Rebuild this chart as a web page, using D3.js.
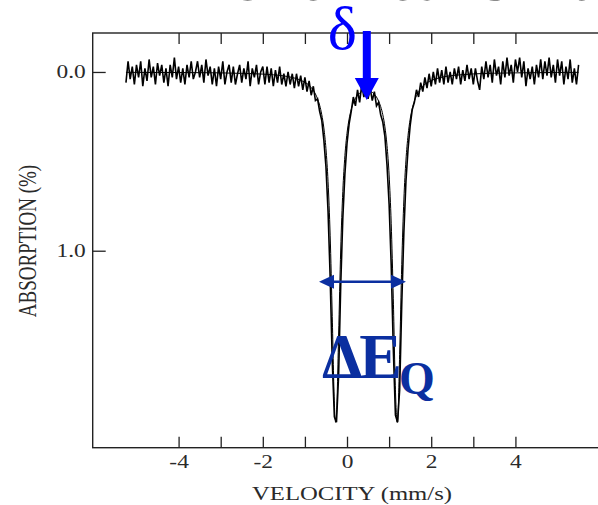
<!DOCTYPE html>
<html>
<head>
<meta charset="utf-8">
<script src="https://cdn.jsdelivr.net/npm/d3@7"></script>
<style>
  body { margin: 0; background: #fff; }
  svg { display: block; }
</style>
</head>
<body>
<svg id="drawing_region"></svg>
<script>
// velocity (mm/s), absorption (%)
const spectrum = [
  [-5.25,0.06],[-5.20,-0.06],[-5.15,0.04],[-5.10,-0.03],[-5.05,0.07],[-5.00,-0.04],[-4.95,0.03],[-4.90,-0.06],
  [-4.85,0.08],[-4.80,-0.02],[-4.75,0.05],[-4.70,-0.07],[-4.65,0.03],[-4.60,-0.03],[-4.55,0.07],[-4.50,-0.05],
  [-4.45,0.02],[-4.40,-0.04],[-4.35,0.06],[-4.30,-0.02],[-4.25,0.08],[-4.20,-0.04],[-4.15,0.03],[-4.10,-0.08],
  [-4.05,0.04],[-4.00,-0.03],[-3.95,0.06],[-3.90,-0.02],[-3.85,0.07],[-3.80,-0.04],[-3.75,0.03],[-3.70,-0.06],
  [-3.65,0.04],[-3.60,0.00],[-3.55,-0.06],[-3.50,0.03],[-3.45,-0.04],[-3.40,0.06],[-3.35,-0.07],[-3.30,0.02],
  [-3.25,-0.03],[-3.20,0.07],[-3.15,-0.02],[-3.10,0.08],[-3.05,-0.03],[-3.00,0.04],[-2.95,-0.06],[-2.90,0.07],
  [-2.85,0.00],[-2.80,-0.04],[-2.75,0.06],[-2.70,-0.03],[-2.65,0.07],[-2.60,0.01],[-2.55,-0.04],[-2.50,0.06],
  [-2.45,-0.02],[-2.40,0.04],[-2.35,-0.06],[-2.30,0.08],[-2.25,-0.02],[-2.20,0.03],[-2.15,-0.04],[-2.10,0.07],
  [-2.05,0.00],[-2.00,-0.03],[-1.95,0.07],[-1.90,-0.03],[-1.85,0.06],[-1.80,-0.02],[-1.75,0.08],[-1.70,-0.01],
  [-1.65,0.06],[-1.60,-0.03],[-1.55,0.07],[-1.50,0.01],[-1.45,0.08],[-1.40,0.00],[-1.35,0.07],[-1.30,0.01],
  [-1.25,0.09],[-1.20,0.01],[-1.15,0.08],[-1.10,0.02],[-1.05,0.10],[-1.00,0.03],[-0.95,0.11],[-0.90,0.05],
  [-0.85,0.13],[-0.80,0.08],[-0.75,0.16],[-0.70,0.15],[-0.65,0.22],[-0.60,0.27],[-0.55,0.38],[-0.50,0.53],
  [-0.45,0.78],[-0.40,1.15],[-0.35,1.62],[-0.30,1.93],[-0.25,1.96],[-0.20,1.70],[-0.15,1.20],[-0.10,0.82],
  [-0.05,0.57],[0.00,0.40],[0.05,0.29],[0.10,0.22],[0.15,0.14],[0.20,0.19],[0.25,0.10],[0.30,0.17],
  [0.35,0.07],[0.40,0.14],[0.45,0.08],[0.50,0.15],[0.55,0.09],[0.60,0.16],[0.65,0.11],[0.70,0.19],
  [0.75,0.17],[0.80,0.24],[0.85,0.28],[0.90,0.36],[0.95,0.52],[1.00,0.74],[1.05,1.08],[1.10,1.55],
  [1.15,1.92],[1.20,1.96],[1.25,1.78],[1.30,1.30],[1.35,0.90],[1.40,0.61],[1.45,0.43],[1.50,0.30],
  [1.55,0.21],[1.60,0.17],[1.65,0.10],[1.70,0.14],[1.75,0.06],[1.80,0.11],[1.85,0.03],[1.90,0.09],
  [1.95,0.01],[2.00,0.08],[2.05,0.00],[2.10,0.07],[2.15,-0.02],[2.20,0.06],[2.25,-0.01],[2.30,0.07],
  [2.35,-0.03],[2.40,0.06],[2.45,0.00],[2.50,0.07],[2.55,-0.02],[2.60,0.04],[2.65,-0.03],[2.70,0.07],
  [2.75,-0.01],[2.80,0.05],[2.85,-0.04],[2.90,0.04],[2.95,-0.02],[3.00,0.07],[3.05,-0.02],[3.10,0.05],
  [3.15,0.10],[3.20,-0.03],[3.25,0.04],[3.30,-0.06],[3.35,0.03],[3.40,-0.04],[3.45,0.06],[3.50,-0.07],
  [3.55,0.02],[3.60,-0.03],[3.65,0.07],[3.70,-0.06],[3.75,0.03],[3.80,-0.08],[3.85,0.02],[3.90,-0.04],
  [3.95,0.06],[4.00,-0.07],[4.05,0.00],[4.10,-0.08],[4.15,0.03],[4.20,-0.06],[4.25,0.08],[4.30,-0.02],
  [4.35,0.04],[4.40,-0.03],[4.45,0.07],[4.50,-0.04],[4.55,0.03],[4.60,-0.07],[4.65,0.04],[4.70,-0.06],
  [4.75,0.02],[4.80,-0.08],[4.85,0.03],[4.90,-0.04],[4.95,0.06],[5.00,-0.07],[5.05,0.02],[5.10,-0.06],
  [5.15,0.07],[5.20,-0.03],[5.25,0.04],[5.30,-0.07],[5.35,0.06],[5.40,-0.02],[5.45,0.07],[5.50,-0.04]
];

// fitted doublet (thin smooth line)
const fitCurve = [
  [-5.25,0.002],[-4.5,0.003],[-4,0.003],[-3.5,0.004],[-3,0.005],[-2.5,0.008],[-2,0.012],[-1.75,0.016],
  [-1.5,0.022],[-1.4,0.026],[-1.3,0.031],[-1.2,0.037],[-1.1,0.046],[-1.0,0.058],[-0.95,0.065],[-0.9,0.075],
  [-0.85,0.087],[-0.8,0.103],[-0.75,0.123],[-0.7,0.150],[-0.65,0.186],[-0.6,0.238],[-0.55,0.313],[-0.5,0.429],
  [-0.45,0.614],[-0.4,0.913],[-0.35,1.369],[-0.3,1.857],[-0.27,1.96],[-0.25,1.92],[-0.2,1.477],[-0.15,0.996],
  [-0.1,0.669],[-0.05,0.468],[0,0.343],[0.05,0.263],[0.1,0.21],[0.15,0.174],[0.2,0.148],[0.25,0.131],
  [0.3,0.118],[0.35,0.110],[0.4,0.105],[0.45,0.103],[0.5,0.104],[0.55,0.108],[0.6,0.114],[0.65,0.125],
  [0.7,0.140],[0.75,0.163],[0.8,0.194],[0.85,0.239],[0.9,0.307],[0.95,0.411],[1.0,0.576],[1.05,0.846],
  [1.1,1.269],[1.15,1.778],[1.19,1.96],[1.2,1.959],[1.25,1.58],[1.3,1.076],[1.35,0.716],[1.4,0.493],
  [1.45,0.354],[1.5,0.264],[1.55,0.205],[1.6,0.163],[1.65,0.133],[1.7,0.110],[1.8,0.080],[1.9,0.060],
  [2.0,0.048],[2.2,0.032],[2.4,0.023],[2.75,0.015],[3,0.011],[3.5,0.007],[4,0.005],[4.5,0.004],
  [5,0.003],[5.5,0.002]
];

const xTicks = [-4, -3, -2, -1, 0, 1, 2, 3, 4];
const xTickLabels = [-4, -2, 0, 2, 4];
const yTicks = [0.0, 1.0];

// annotation positions in data units
const shiftAt = { v: 0.47, a: 0.157 };                  // δ arrow tip
const splitArrow = { v0: -0.665, v1: 1.40, a: 1.174 };  // ΔEQ arrow

const config = {
  width: 598,
  height: 505,
  left: 92.7, right: 611, top: 33, bottom: 447.7,
  xDomain: [-6.04, 6.27],
  yDomain: [-0.218, 2.102]
};

const serif = '"Liberation Serif", "Times New Roman", serif';
const stretch = 1.3;   // the original text is wide

const svg = d3.select('#drawing_region')
  .attr('width', config.width)
  .attr('height', config.height);

const xscale = d3.scaleLinear().domain(config.xDomain).range([config.left, config.right]);
const yscale = d3.scaleLinear().domain(config.yDomain).range([config.top, config.bottom]);

// cut-off heading at the very top
svg.append('text')
  .attr('x', 226)
  .attr('y', 0)
  .attr('font-family', '"Liberation Sans", Arial, sans-serif')
  .attr('font-size', 56)
  .attr('fill', '#111')
  .text('Chemical Shift');

// frame
svg.append('rect')
  .attr('x', config.left)
  .attr('y', config.top)
  .attr('width', config.right - config.left)
  .attr('height', config.bottom - config.top)
  .attr('fill', 'none')
  .attr('stroke', '#222')
  .attr('stroke-width', 1.4);

const fmtX = d => xTickLabels.includes(d) ? d3.format('d')(d).replace('\u2212', '-') : '';

const xBottom = svg.append('g')
  .attr('transform', `translate(0,${config.bottom})`)
  .call(d3.axisBottom(xscale).tickValues(xTicks).tickFormat(fmtX)
    .tickSizeInner(-11).tickSizeOuter(0).tickPadding(8));

const xTop = svg.append('g')
  .attr('transform', `translate(0,${config.top})`)
  .call(d3.axisTop(xscale).tickValues(xTicks).tickFormat('')
    .tickSizeInner(-11).tickSizeOuter(0));

const yLeft = svg.append('g')
  .attr('transform', `translate(${config.left},0)`)
  .call(d3.axisLeft(yscale).tickValues(yTicks).tickFormat(d3.format('.1f'))
    .tickSizeInner(-13).tickSizeOuter(0).tickPadding(5.4));

const yRight = svg.append('g')
  .attr('transform', `translate(${config.right},0)`)
  .call(d3.axisRight(yscale).tickValues(yTicks).tickFormat('')
    .tickSizeInner(-13).tickSizeOuter(0));

[xBottom, xTop, yLeft, yRight].forEach(g => {
  g.select('.domain').remove();
  g.selectAll('.tick line').attr('stroke', '#222').attr('stroke-width', 1.3);
  g.selectAll('.tick text')
    .attr('font-family', serif)
    .attr('font-size', 18)
    .attr('fill', '#2a2a2a')
    .attr('transform', `scale(${stretch},1)`);
});

// axis titles
svg.append('text')
  .attr('transform', `translate(${xscale(0) + 5},500) scale(${stretch},1)`)
  .attr('text-anchor', 'middle')
  .attr('font-family', serif)
  .attr('font-size', 19)
  .attr('fill', '#2a2a2a')
  .text('VELOCITY (mm/s)');

svg.append('text')
  .attr('transform', `translate(36,241) scale(${stretch},1) rotate(-90)`)
  .attr('text-anchor', 'middle')
  .attr('font-family', serif)
  .attr('font-size', 19)
  .attr('fill', '#2a2a2a')
  .text('ABSORPTION (%)');

// fit and measured spectrum
const fitLine = d3.line()
  .x(d => xscale(d[0]))
  .y(d => yscale(d[1]))
  .curve(d3.curveMonotoneX);

const dataLine = d3.line()
  .x(d => xscale(d[0]))
  .y(d => yscale(d[1]));

svg.append('path')
  .attr('d', fitLine(fitCurve))
  .attr('fill', 'none')
  .attr('stroke', '#000')
  .attr('stroke-width', 1);

svg.append('path')
  .attr('d', dataLine(spectrum))
  .attr('fill', 'none')
  .attr('stroke', '#000')
  .attr('stroke-width', 1.6);

// δ : isomer shift arrow
const tx = xscale(shiftAt.v), ty = yscale(shiftAt.a);
svg.append('path')
  .attr('d', `M${tx - 4},${ty - 69} L${tx + 4},${ty - 69} L${tx + 4},${ty - 22} L${tx + 12},${ty - 22}
              L${tx},${ty} L${tx - 12},${ty - 22} L${tx - 4},${ty - 22} Z`)
  .attr('fill', '#0000ff');

svg.append('text')
  .attr('x', tx - 39)
  .attr('y', 49)
  .attr('font-family', serif)
  .attr('font-size', 62)
  .attr('fill', '#0000ff')
  .text('δ');

// ΔEQ : quadrupole splitting arrow
const qa = xscale(splitArrow.v0), qb = xscale(splitArrow.v1), qy = yscale(splitArrow.a);
const qColor = '#0b2fa0';
svg.append('line')
  .attr('x1', qa + 10).attr('x2', qb - 10)
  .attr('y1', qy).attr('y2', qy)
  .attr('stroke', qColor)
  .attr('stroke-width', 2.5);
svg.append('path')
  .attr('d', `M${qa},${qy} L${qa + 15},${qy - 7} L${qa + 15},${qy + 7} Z
              M${qb},${qy} L${qb - 15},${qy - 7} L${qb - 15},${qy + 7} Z`)
  .attr('fill', qColor);

svg.append('text')
  .attr('x', 322)
  .attr('y', 378)
  .attr('font-family', serif)
  .attr('font-weight', 'bold')
  .attr('font-size', 64)
  .attr('letter-spacing', -3)
  .attr('fill', qColor)
  .text('ΔE');

svg.append('text')
  .attr('x', 399)
  .attr('y', 394)
  .attr('font-family', serif)
  .attr('font-weight', 'bold')
  .attr('font-size', 46)
  .attr('fill', qColor)
  .text('Q');
</script>
</body>
</html>
